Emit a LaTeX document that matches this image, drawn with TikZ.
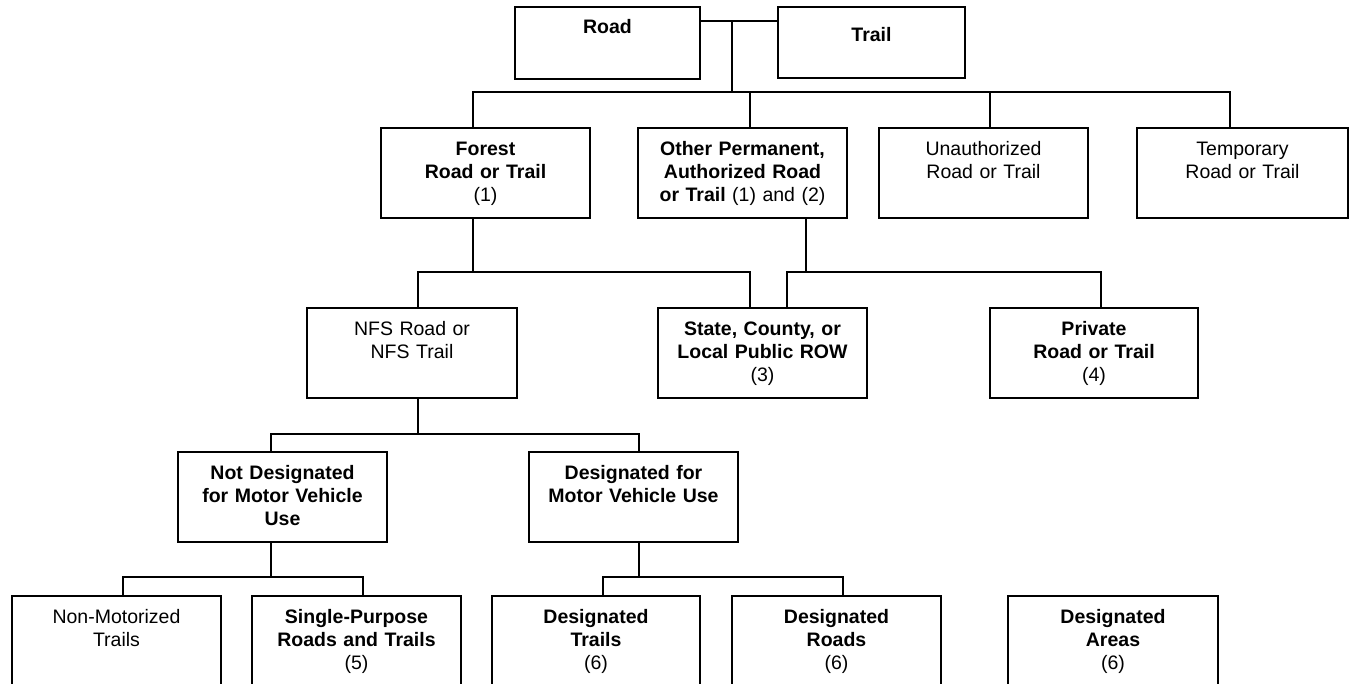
\documentclass[tikz,border=0pt]{standalone}
\usepackage{fontspec}
\setmainfont{Liberation Sans}
\usetikzlibrary{positioning,calc}

\begin{document}
\begin{tikzpicture}[x=1pt,y=-1pt]
  \tikzstyle{box}=[draw, line width=1.5pt, anchor=north west, inner sep=0pt, outer sep=0pt, text width=209pt, align=center, font=\fontsize{19.5}{23}\selectfont, text height=27pt, text depth=63pt]
  \tikzstyle{topbox}=[box, text width=185pt, text height=26pt, text depth=46pt]
  \tikzstyle{link}=[line width=1.5pt]

  \clip (0,0) rectangle (1351,683);

  % Road / Trail
  \node[topbox] (road) at (515,7) {\textbf{Road}};
  \node[topbox, text width=187pt, text height=34pt, text depth=37pt] (trail) at (778,7) {\textbf{Trail}};

  % Level 1
  \node[box] (forest) at (381,128) {\textbf{Forest}\\\textbf{Road or Trail}\\(1)};
  \node[box] (other) at (638,128) {\textbf{Other Permanent,}\\\textbf{Authorized Road}\\\textbf{or Trail} (1) and (2)};
  \node[box] (unauth) at (879,128) {Unauthorized\\Road or Trail};
  \node[box, text width=211pt] (temp) at (1137,128) {Temporary\\Road or Trail};

  % Level 2
  \node[box, text width=210pt] (nfs) at (307,308) {NFS Road or\\NFS Trail};
  \node[box] (state) at (658,308) {\textbf{State, County, or}\\\textbf{Local Public ROW}\\(3)};
  \node[box, text width=208pt] (private) at (990,308) {\textbf{Private}\\\textbf{Road or Trail}\\(4)};

  % Level 3
  \node[box] (notdes) at (178,452) {\textbf{Not Designated}\\\textbf{for Motor Vehicle}\\\textbf{Use}};
  \node[box] (mvu) at (529,452) {\textbf{Designated for}\\\textbf{Motor Vehicle Use}};

  % Level 4
  \node[box] (nonmot) at (12,596) {Non-Motorized\\Trails};
  \node[box] (single) at (252,596) {\textbf{Single-Purpose}\\\textbf{Roads and Trails}\\(5)};
  \node[box, text width=208pt] (dtrails) at (492,596) {\textbf{Designated}\\\textbf{Trails}\\(6)};
  \node[box] (droads) at (732,596) {\textbf{Designated}\\\textbf{Roads}\\(6)};
  \node[box, text width=210pt] (dareas) at (1008,596) {\textbf{Designated}\\\textbf{Areas}\\(6)};

  % Bus levels
  \coordinate (j0) at (732,21);
  \coordinate (lvl1) at (0,92);
  \coordinate (lvl2) at (0,272);
  \coordinate (lvl3) at (0,434);
  \coordinate (lvl4) at (0,577);

  % Connectors
  \draw[link] (road.east |- j0) -- (trail.west |- j0);
  \draw[link] (j0) -- (j0 |- lvl1);
  \draw[link] (forest.north -| 473,0) |- (lvl1 -| 1230,0) -- (temp.north -| 1230,0);
  \draw[link] (other.north -| 750,0) -- (lvl1 -| 750,0);
  \draw[link] (unauth.north -| 990,0) -- (lvl1 -| 990,0);

  \draw[link] (forest.south -| 473,0) -- (lvl2 -| 473,0);
  \draw[link] (nfs.north -| 418,0) |- (lvl2 -| 750,0) -- (state.north -| 750,0);
  \draw[link] (other.south -| 806,0) -- (lvl2 -| 806,0);
  \draw[link] (state.north -| 787,0) |- (lvl2 -| 1101,0) -- (private.north -| 1101,0);

  \draw[link] (nfs.south -| 418,0) -- (lvl3 -| 418,0);
  \draw[link] (notdes.north -| 271,0) |- (lvl3 -| 639,0) -- (mvu.north -| 639,0);

  \draw[link] (notdes.south -| 271,0) -- (lvl4 -| 271,0);
  \draw[link] (nonmot.north -| 123,0) |- (lvl4 -| 363,0) -- (single.north -| 363,0);
  \draw[link] (mvu.south -| 639,0) -- (lvl4 -| 639,0);
  \draw[link] (dtrails.north -| 603,0) |- (lvl4 -| 843,0) -- (droads.north -| 843,0);
\end{tikzpicture}
\end{document}
